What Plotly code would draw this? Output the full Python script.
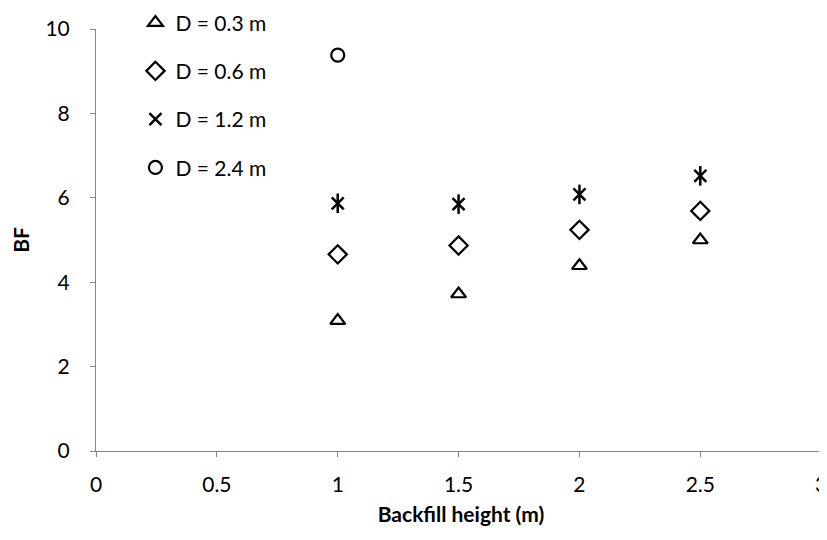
import plotly.graph_objects as go

x_vals = [1, 1.5, 2, 2.5]
bf_d03 = [3.09, 3.72, 4.39, 5.00]
bf_d06 = [4.66, 4.87, 5.24, 5.69]
bf_d12 = [5.87, 5.85, 6.08, 6.52]
x_d24 = [1]
bf_d24 = [9.38]

x_ticks = [0, 0.5, 1, 1.5, 2, 2.5, 3]
x_ticktext = ["0", "0.5", "1", "1.5", "2", "2.5", "3"]
y_ticks = [0, 2, 4, 6, 8, 10]
y_ticktext = ["0", "2", "4", "6", "8", "10"]

FONT = "Lato"
GRAY = "#868686"
FS = 21

fig = go.Figure()

def mk(symbol, size, width=2.2):
    return dict(symbol=symbol, size=size, color="black",
                line=dict(color="black", width=width))

fig.add_trace(go.Scatter(x=x_vals, y=bf_d03, mode="markers", name="D = 0.3 m",
                         legendgroup="a", marker=mk("triangle-up-open", 13)))
fig.add_trace(go.Scatter(x=x_vals, y=bf_d06, mode="markers", name="D = 0.6 m",
                         legendgroup="b", marker=mk("diamond-open", 14)))
fig.add_trace(go.Scatter(x=x_vals, y=bf_d12, mode="markers", name="D = 1.2 m",
                         legendgroup="c", marker=mk("x-thin-open", 12, 2.5)))
fig.add_trace(go.Scatter(x=x_vals, y=bf_d12, mode="markers", name="D = 1.2 m",
                         legendgroup="c", showlegend=False,
                         marker=mk("line-ns-open", 14, 2.5)))
fig.add_trace(go.Scatter(x=x_d24, y=bf_d24, mode="markers", name="D = 2.4 m",
                         legendgroup="d", marker=mk("circle-open", 13)))

# page body has an 8px margin, so the figure is sized to fit the 827x540 window
fig.update_layout(
    width=819, height=532,
    margin=dict(l=88, r=1, t=21, b=89, autoexpand=False),
    paper_bgcolor="white", plot_bgcolor="white",
    font=dict(family=FONT, size=FS, color="black"),
    showlegend=True,
    legend=dict(x=0.054, y=1.063, xanchor="left", yanchor="top",
                bgcolor="rgba(0,0,0,0)", tracegroupgap=18,
                font=dict(family=FONT, size=FS, color="black")),
    xaxis=dict(range=[0, 3.02], tickvals=x_ticks, ticktext=x_ticktext,
               automargin=False, ticklabeloverflow="allow",
               showgrid=False, zeroline=False, showline=True,
               linecolor=GRAY, linewidth=1, ticks="outside", ticklen=5,
               tickcolor=GRAY, tickwidth=1, ticklabelstandoff=10,
               title=dict(text="<b>Backfill height (m)</b>", standoff=12,
                          font=dict(family=FONT, size=FS))),
    yaxis=dict(range=[0, 10], tickvals=y_ticks, ticktext=y_ticktext,
               automargin=False,
               showgrid=False, zeroline=False, showline=True,
               linecolor=GRAY, linewidth=1, ticks="outside", ticklen=5,
               tickcolor=GRAY, tickwidth=1, ticklabelstandoff=16,
               title=dict(text="<b>BF</b>", standoff=22,
                          font=dict(family=FONT, size=FS))),
)

fig.write_html("out.html")
